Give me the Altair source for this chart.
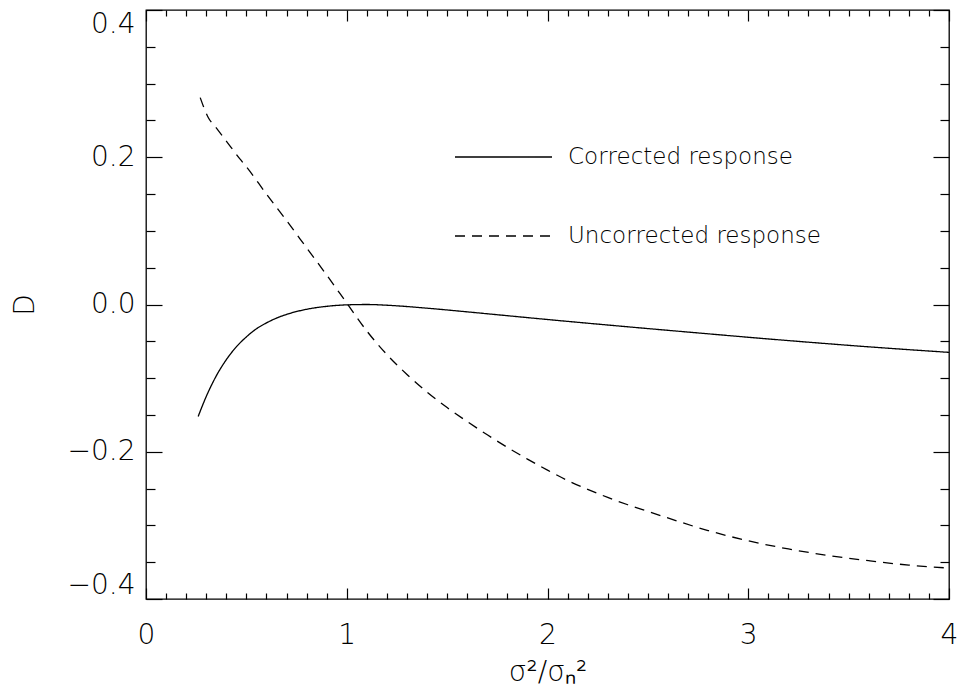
import altair as alt
import pandas as pd

# ---- data ----
corr_x = [0.26, 0.30, 0.35, 0.40, 0.45, 0.50, 0.55, 0.60, 0.65, 0.70, 0.80, 0.90,
          1.00, 1.10, 1.20, 1.40, 1.60, 1.80, 2.00, 2.20, 2.50, 2.80, 3.00, 3.30,
          3.60, 4.00]
corr_y = [-0.152, -0.125, -0.097, -0.075, -0.0575, -0.044, -0.033, -0.025, -0.0185,
          -0.0135, -0.0065, -0.0025, -0.0005, 0.0, -0.001, -0.005, -0.010, -0.0152,
          -0.0204, -0.0254, -0.0327, -0.0398, -0.0445, -0.0512, -0.0575, -0.065]

unc_x = [0.27, 0.31, 0.35, 0.40, 0.47, 0.50, 0.60, 0.70, 0.80, 0.90, 1.00, 1.10,
         1.20, 1.30, 1.40, 1.50, 1.60, 1.70, 1.80, 1.90, 2.00, 2.10, 2.20, 2.30,
         2.40, 2.50, 2.80, 3.00, 3.20, 3.40, 3.60, 3.80, 4.00]
unc_y = [0.281, 0.254, 0.240, 0.222, 0.197, 0.187, 0.150, 0.114, 0.077, 0.040,
         0.002, -0.036, -0.068, -0.095, -0.119, -0.140, -0.159, -0.177, -0.194,
         -0.210, -0.225, -0.239, -0.251, -0.262, -0.272, -0.281, -0.307, -0.321,
         -0.332, -0.341, -0.348, -0.354, -0.358]

series_names = ["Corrected response", "Uncorrected response"]

x_label_values = [0, 1, 2, 3, 4]
y_label_values = [-0.4, -0.2, 0.0, 0.2, 0.4]
x_major_ticks = [0, 1, 2, 3, 4]
x_minor_ticks = [round(i * 0.1, 1) for i in range(41) if i % 10 != 0]
y_major_ticks = [-0.4, -0.2, 0.0, 0.2, 0.4]
y_minor_ticks = [round(-0.4 + i * 0.05, 2) for i in range(17) if i % 4 != 0]

df = pd.DataFrame({
    "x": corr_x + unc_x,
    "y": corr_y + unc_y,
    "series": [series_names[0]] * len(corr_x) + [series_names[1]] * len(unc_x),
})

W, H = 803, 589
FONT = "DejaVu Sans"
FW = 200

xscale = alt.Scale(domain=[0, 4], nice=False, zero=False)
yscale = alt.Scale(domain=[-0.4, 0.4], nice=False, zero=False)


def tick_axis(orient, values, size, offset):
    return alt.Axis(
        orient=orient, offset=offset, values=values, labels=False, domain=False,
        grid=False, ticks=True, tickColor="black", tickWidth=1.2, tickSize=size,
        title=None,
    )


lines = alt.Chart(df).mark_line(color="black", strokeWidth=1.3, interpolate="monotone").encode(
    x=alt.X("x:Q", scale=xscale, axis=alt.Axis(
        orient="bottom", values=x_label_values, format="d", ticks=False, domain=False,
        grid=False, labelFlush=False, labelFont=FONT, labelFontSize=28,
        labelFontWeight=FW, labelColor="black", labelPadding=22, title="σ²/σₙ²",
        titleFont=FONT, titleFontSize=28, titleFontWeight=FW, titleColor="black",
        titlePadding=9)),
    y=alt.Y("y:Q", scale=yscale, axis=alt.Axis(
        orient="left", values=y_label_values, format=".1f", ticks=False, domain=False,
        grid=False, labelFont=FONT, labelFontSize=28, labelFontWeight=FW,
        labelColor="black", labelPadding=11, labelFlush=True, title="D",
        titleFont=FONT, titleFontSize=28, titleFontWeight=FW, titleColor="black",
        titlePadding=28)),
    strokeDash=alt.StrokeDash("series:N", scale=alt.Scale(
        domain=series_names, range=[[1, 0], [10, 7]]),
        legend=alt.Legend(
            orient="none", legendX=308, legendY=137, title=None, symbolType="stroke",
            symbolSize=9409, symbolStrokeWidth=1.3, symbolStrokeColor="black",
            labelFont=FONT, labelFontSize=23, labelFontWeight=FW, labelColor="black",
            labelOffset=15, clipHeight=20, rowPadding=56, padding=0, labelLimit=400)),
)


def tick_layer(x_orient, x_values, x_size, y_orient, y_values, y_size):
    return alt.Chart(df).mark_line(strokeOpacity=0).encode(
        x=alt.X("x:Q", scale=xscale, axis=tick_axis(x_orient, x_values, x_size, -H)),
        y=alt.Y("y:Q", scale=yscale, axis=tick_axis(y_orient, y_values, y_size, -W)),
    )


# axes drawn from the opposite side (negative offset) so that ticks point inwards
major_low = tick_layer("top", x_major_ticks, 11, "right", y_major_ticks, 16)
minor_low = tick_layer("top", x_minor_ticks, 6, "right", y_minor_ticks, 9)
major_high = tick_layer("bottom", x_major_ticks, 11, "left", y_major_ticks, 16)
minor_high = tick_layer("bottom", x_minor_ticks, 6, "left", y_minor_ticks, 9)

chart = alt.layer(lines, major_low, minor_low, major_high, minor_high).resolve_axis(
    x="independent", y="independent"
).properties(
    width=W, height=H,
    padding={"left": 138, "top": 2, "right": 9, "bottom": 88},
    autosize=alt.AutoSizeParams(type="none"),
    background="white",
).configure_view(stroke="black", strokeWidth=1.3)

chart.save("out.html", embed_options={"renderer": "svg", "actions": False})
